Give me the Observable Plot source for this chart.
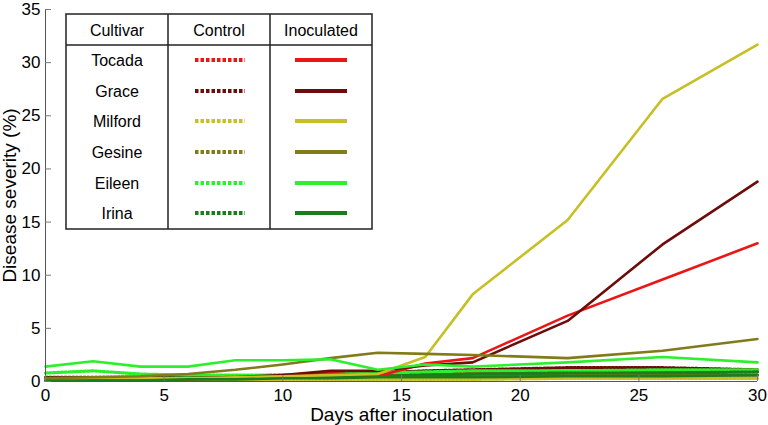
<!DOCTYPE html>
<html><head><meta charset="utf-8">
<script src="https://cdn.jsdelivr.net/npm/d3@7"></script>
<script src="https://cdn.jsdelivr.net/npm/@observablehq/plot@0.6"></script>
<style>
body{margin:0;background:#fff;font-family:"Liberation Sans",Arial,sans-serif;}
#wrap{position:relative;width:768px;height:425px;}
#legend{position:absolute;left:0;top:0;}
</style></head><body>
<div id="wrap"></div>
<script>
const days = [0,2,4,6,8,10,12,14,16,18,22,26,30];
const cultivars = ["Tocada","Grace","Milford","Gesine","Eileen","Irina"];
const colors = ["#ec1515","#6e0b0b","#c6c024","#817b1a","#2cf02c","#1b7d1b"];
const yTicks = [0,5,10,15,20,25,30,35];
const xTicks = [0,5,10,15,20,25,30];

const inoculated = {
  Tocada:  [0.1,0.2,0.2,0.2,0.3,0.5,0.8,0.5,1.7,2.2,6.2,9.6,13.0],
  Grace:   [0.2,0.2,0.3,0.3,0.4,0.6,1.0,1.0,1.5,1.8,5.7,12.9,18.8],
  Milford: [0.2,0.3,0.3,0.3,0.4,0.5,0.6,0.7,2.3,8.2,15.2,26.6,31.7],
  Gesine:  [0.3,0.4,0.5,0.7,1.1,1.6,2.2,2.7,2.6,2.5,2.2,2.9,4.0],
  Eileen:  [1.4,1.9,1.4,1.4,2.0,2.0,2.1,1.1,1.6,1.4,1.8,2.3,1.8],
  Irina:   [0.1,0.1,0.1,0.2,0.2,0.3,0.3,0.4,0.4,0.4,0.5,0.5,0.6]
};
const control = {
  Tocada:  [0.3,0.3,0.3,0.3,0.4,0.4,0.5,0.6,0.7,0.8,0.9,1.0,1.0],
  Grace:   [0.4,0.4,0.4,0.4,0.5,0.6,0.7,0.8,1.0,1.1,1.3,1.3,1.1],
  Milford: [0.1,0.1,0.1,0.1,0.1,0.2,0.2,0.2,0.2,0.2,0.3,0.3,0.3],
  Gesine:  [0.3,0.3,0.3,0.3,0.3,0.4,0.4,0.5,0.5,0.6,0.6,0.6,0.6],
  Eileen:  [0.8,1.0,0.7,0.6,0.6,0.6,0.7,0.8,0.9,1.0,1.0,1.1,1.1],
  Irina:   [0.3,0.3,0.3,0.3,0.4,0.4,0.5,0.5,0.6,0.7,0.8,0.8,0.9]
};

function rows(obj, treat){
  const out=[];
  cultivars.forEach(c=>obj[c].forEach((v,i)=>out.push({cultivar:c,treat,day:days[i],sev:v})));
  return out;
}
const ctrlRows = rows(control,"Control");
const inocRows = rows(inoculated,"Inoculated");

const plot = Plot.plot({
  width:768, height:425,
  marginLeft:45, marginRight:11, marginTop:9, marginBottom:44,
  style:{fontFamily:'"Liberation Sans",Arial,sans-serif', fontSize:"17px", color:"#000", background:"#fff", overflow:"visible"},
  x:{domain:[0,30], ticks:xTicks},
  y:{domain:[0,35], ticks:yTicks},
  color:{domain:cultivars, range:colors},
  marks:[
    Plot.lineY(ctrlRows,{x:"day",y:"sev",z:"cultivar",stroke:"cultivar",strokeWidth:3.2,strokeDasharray:"2.2,1.6"}),
    Plot.lineY(inocRows,{x:"day",y:"sev",z:"cultivar",stroke:"cultivar",strokeWidth:2.6}),
    Plot.ruleX([0],{stroke:"#555",strokeWidth:1}),
    Plot.ruleY([0],{stroke:"#555",strokeWidth:1}),
    Plot.axisY({ticks:yTicks,tickSize:-6,stroke:"#777",text:null,label:null}),
    Plot.axisY({ticks:yTicks,tickSize:0,tickPadding:5,fontSize:17,
      label:"Disease severity (%)",labelAnchor:"center",labelArrow:"none",labelOffset:43}),
    Plot.axisX({ticks:xTicks,tickSize:-6,stroke:"#777",text:null,label:null}),
    Plot.axisX({ticks:xTicks,tickSize:0,tickPadding:7,fontSize:17,
      label:"Days after inoculation",labelAnchor:"center",labelArrow:"none",labelOffset:39})
  ]
});
d3.select(plot).selectAll("g[aria-label='y-axis label'] text, g[aria-label='x-axis label'] text").attr("font-size",19);
const wrap=document.getElementById("wrap");
wrap.appendChild(plot);

// Legend table overlay
const L = d3.select(wrap).append("svg").attr("id","legend").attr("width",768).attr("height",425)
  .style("font-family",'"Liberation Sans",Arial,sans-serif');
const x0=66,x1=168,x2=270,x3=372,y0=14,yh=45,y1=229;
L.append("rect").attr("x",x0).attr("y",y0).attr("width",x3-x0).attr("height",y1-y0)
  .attr("fill","#fff").attr("stroke","#222").attr("stroke-width",1.5);
L.append("line").attr("x1",x0).attr("x2",x3).attr("y1",yh).attr("y2",yh).attr("stroke","#222").attr("stroke-width",1.5);
[x1,x2].forEach(x=>L.append("line").attr("x1",x).attr("x2",x).attr("y1",y0).attr("y2",y1).attr("stroke","#222").attr("stroke-width",1.5));
const headers=["Cultivar","Control","Inoculated"];
headers.forEach((h,i)=>L.append("text").attr("x",[117,219,321][i]).attr("y",30).attr("text-anchor","middle")
  .attr("dominant-baseline","central").attr("font-size",16).text(h));
const rowY=[60,91,121,152,183,213];
cultivars.forEach((c,i)=>{
  L.append("text").attr("x",117).attr("y",rowY[i]).attr("text-anchor","middle").attr("dominant-baseline","central")
    .attr("font-size",16).text(c);
  L.append("line").attr("x1",195).attr("x2",245).attr("y1",rowY[i]).attr("y2",rowY[i])
    .attr("stroke",colors[i]).attr("stroke-width",4).attr("stroke-dasharray","3.5,2");
  L.append("line").attr("x1",295).attr("x2",347).attr("y1",rowY[i]).attr("y2",rowY[i])
    .attr("stroke",colors[i]).attr("stroke-width",4);
});
</script>
</body></html>
